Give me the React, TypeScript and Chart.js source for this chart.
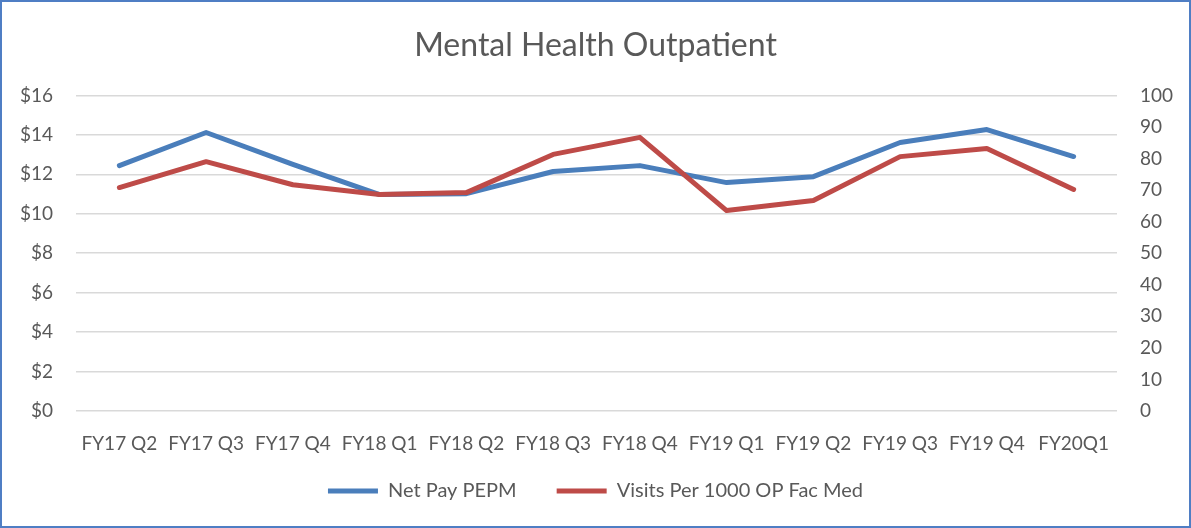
import React, { useEffect, useRef } from "react";
import { Chart, registerables } from "chart.js";

Chart.register(...registerables);

const categories = [
  "FY17 Q2", "FY17 Q3", "FY17 Q4", "FY18 Q1", "FY18 Q2", "FY18 Q3",
  "FY18 Q4", "FY19 Q1", "FY19 Q2", "FY19 Q3", "FY19 Q4", "FY20Q1",
];
const netPayPEPM = [12.44, 14.12, 12.5, 10.97, 11.02, 12.14, 12.44, 11.58, 11.88, 13.61, 14.27, 12.9];
const visitsPer1000 = [70.8, 79.0, 71.7, 68.6, 69.2, 81.3, 86.7, 63.5, 66.7, 80.6, 83.2, 70.2];

const TEXT = "#595959";
const FONT = "Lato, 'Liberation Sans', sans-serif";
const LEGEND_PAD = 40;
const LEGEND_BOX_H = 46;

const borderPlugin = {
  id: "outerBorder",
  afterDraw(chart: any) {
    const ctx = chart.ctx;
    ctx.save();
    ctx.strokeStyle = "#4F7EC4";
    ctx.lineWidth = 2;
    ctx.strokeRect(1, 1, chart.width - 2, chart.height - 2);
    ctx.restore();
  },
};

// Keep wide horizontal gaps between legend items while using a compact legend box.
const legendBoxPlugin = {
  id: "legendBox",
  beforeLayout(chart: any) {
    const lg = chart.legend;
    if (lg && !lg.__wrapped) {
      const orig = lg.fit.bind(lg);
      lg.fit = function () {
        orig();
        this.height = LEGEND_BOX_H;
      };
      lg.__wrapped = true;
    }
  },
  afterLayout(chart: any) {
    const lg = chart.legend;
    if (lg) {
      lg.top -= LEGEND_PAD - 16;
      lg.height = lg.bottom - lg.top;
    }
  },
};

export default function App() {
  const ref = useRef<HTMLCanvasElement | null>(null);
  useEffect(() => {
    document.body.style.margin = "0";
    const chart = new Chart(ref.current as HTMLCanvasElement, {
      type: "line",
      data: {
        labels: categories,
        datasets: [
          {
            label: "Net Pay PEPM",
            data: netPayPEPM,
            borderColor: "#4A7EBB",
            backgroundColor: "#4A7EBB",
            borderWidth: 5,
            pointRadius: 0,
            tension: 0,
            borderCapStyle: "round",
            borderJoinStyle: "round",
            yAxisID: "y",
            order: 1,
          },
          {
            label: "Visits Per 1000 OP Fac Med",
            data: visitsPer1000,
            borderColor: "#BE4B48",
            backgroundColor: "#BE4B48",
            borderWidth: 5,
            pointRadius: 0,
            tension: 0,
            borderCapStyle: "round",
            borderJoinStyle: "round",
            yAxisID: "y1",
            order: 0,
          },
        ],
      },
      options: {
        animation: false,
        responsive: false,
        layout: { padding: { left: 10, right: 10, top: 0, bottom: 17 } },
        plugins: {
          title: {
            display: true,
            text: "Mental Health Outpatient",
            color: TEXT,
            font: { family: FONT, size: 32, weight: "normal" },
            padding: { top: 26, bottom: 31 },
          },
          legend: {
            position: "bottom",
            labels: {
              color: TEXT,
              font: { family: FONT, size: 20 },
              usePointStyle: true,
              pointStyle: "line",
              pointStyleWidth: 50,
              padding: LEGEND_PAD,
              sort: (a: any, b: any) => a.datasetIndex - b.datasetIndex,
            },
          },
          tooltip: { enabled: false },
        },
        scales: {
          x: {
            offset: true,
            grid: { display: false },
            border: { display: false },
            ticks: { color: TEXT, font: { family: FONT, size: 19 }, padding: 13, maxRotation: 0, autoSkip: false },
            afterFit: (s: any) => { s.height = 54; },
          },
          y: {
            position: "left",
            min: 0,
            max: 16,
            grid: { color: "#D9D9D9", lineWidth: 1.5, drawTicks: false },
            border: { display: false },
            ticks: {
              stepSize: 2,
              color: TEXT,
              font: { family: FONT, size: 19 },
              padding: 23,
              callback: (v: any) => "$" + v,
            },
            afterFit: (s: any) => { s.width = 66; },
          },
          y1: {
            position: "right",
            min: 0,
            max: 100,
            grid: { display: false, drawTicks: false },
            border: { display: false },
            ticks: {
              stepSize: 10,
              color: TEXT,
              font: { family: FONT, size: 19 },
              padding: 23,
            },
            afterFit: (s: any) => { s.width = 64; },
          },
        },
      },
      plugins: [legendBoxPlugin, borderPlugin],
    } as any);
    return () => chart.destroy();
  }, []);
  return <canvas ref={ref} width={1191} height={528} style={{ display: "block" }} />;
}
